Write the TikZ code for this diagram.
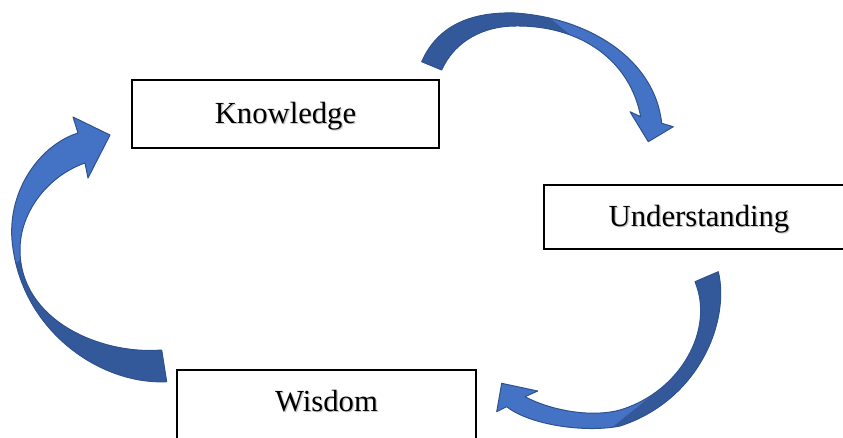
\documentclass[tikz,border=0pt]{standalone}
\usepackage{fontspec}
\setmainfont{Liberation Serif}
\definecolor{arrlight}{RGB}{68,114,196}
\definecolor{arrdark}{RGB}{52,89,155}
\definecolor{arredge}{RGB}{47,82,143}
\newcommand\shtext[1]{\leavevmode\rlap{\kern0.9pt\raisebox{-0.9pt}{\color{black!22}#1}}#1}
\newcommand\arrApath{(421.7,61.7) .. controls (440,20) and (480,12) .. (515,13) .. controls (590,18) and (655,60) .. (661.7,123.3) -- (673.3,126.7) -- (648.3,141.7) -- (630,111.7) -- (640.7,116.7) .. controls (630,60) and (580,25) .. (515,26) .. controls (485,26) and (455,40) .. (441.7,70) -- cycle}
\newcommand\arrBpath{(718.3,271.7) .. controls (730,320) and (700,400) .. (620,426) .. controls (585,433) and (530,425) .. (506.7,406.7) -- (496.7,411.7) -- (501.7,383.3) -- (537.7,391) -- (525,396.7) .. controls (550,410) and (590,418) .. (620,410) .. controls (680,392) and (715,330) .. (695,281.7) -- cycle}
\newcommand\arrCpath{(166.7,381.7) .. controls (100,385) and (20,330) .. (12,240) .. controls (8,190) and (40,145) .. (78,133) -- (73,117) -- (110,135) -- (88,178) -- (85,163) .. controls (50,175) and (20,210) .. (20,250) .. controls (20,320) and (100,355) .. (161.7,350) -- cycle}
\tikzset{
  box/.style={draw=black, line width=1pt, fill=white, inner sep=0pt,
    font=\fontsize{23}{27}\selectfont, text height=18.4pt, text depth=4.6pt},
  arredgestyle/.style={draw=arredge, line width=0.75pt, line join=round}
}
\begin{document}
\begin{tikzpicture}[x=0.75pt,y=-0.75pt]
\useasboundingbox (0,0) rectangle (843,437);
\clip (0,0) rectangle (843,437);
% top arrow
\begin{scope}
  \clip \arrApath;
  \fill[arrlight] (380,-5) rectangle (700,160);
  \fill[arrdark] (380,-5) -- (545,-5) -- (545,14) -- (622,78) -- (622,160) -- (380,160) -- cycle;
\end{scope}
\path[arredgestyle] \arrApath;
% right arrow
\begin{scope}
  \clip \arrBpath;
  \fill[arrlight] (480,250) rectangle (760,445);
  \fill[arrdark] (665,385) -- (690,250) -- (760,250) -- (760,445) -- (590,445) -- cycle;
\end{scope}
\path[arredgestyle] \arrBpath;
% left arrow
\begin{scope}
  \clip \arrCpath;
  \fill[arrlight] (-5,100) rectangle (200,400);
  \fill[arrdark] (-5,279) -- (45,241) -- (200,241) -- (200,400) -- (-5,400) -- cycle;
\end{scope}
\path[arredgestyle] \arrCpath;
% boxes
\node[box, minimum width=230.25pt, minimum height=51pt] (know) at (285.5,114) {\shtext{Knowledge}};
\node[box, minimum width=232.5pt, minimum height=48pt] (under) at (699,217) {\shtext{Understanding}};
\node[box, minimum width=224.25pt, minimum height=56.25pt, text depth=13pt] (wis) at (326.5,407.5) {\shtext{Wisdom}};
\end{tikzpicture}
\end{document}
